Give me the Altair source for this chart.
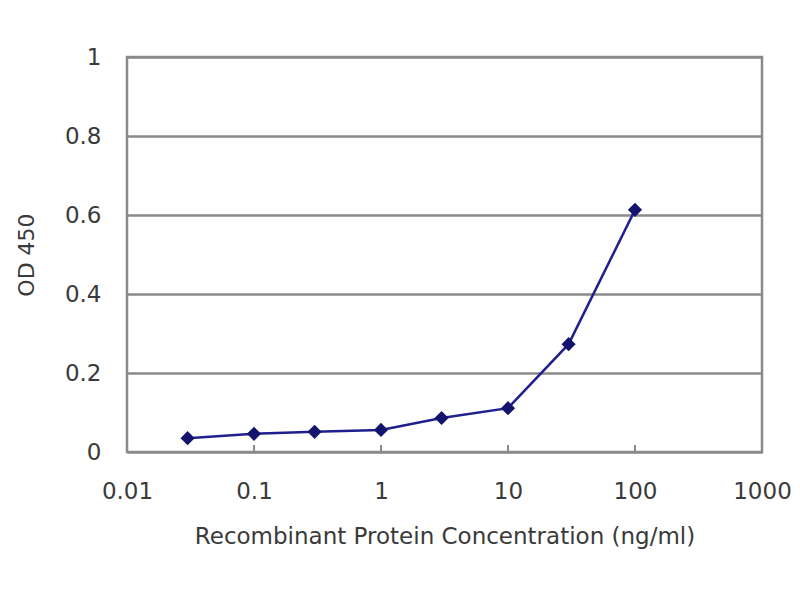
import altair as alt
import pandas as pd

conc = [0.03, 0.1, 0.3, 1, 3, 10, 30, 100]
od = [0.035, 0.046, 0.051, 0.056, 0.086, 0.111, 0.273, 0.613]
x_ticks = [0.01, 0.1, 1, 10, 100, 1000]
inner_ticks = [0.1, 1, 10, 100]

df = pd.DataFrame({"conc": conc, "od": od})
tdf = pd.DataFrame({"t": inner_ticks})

FONT = "DejaVu Sans"
GRAY = "#3a3a3a"

xscale = alt.Scale(type="log", domain=[0.01, 1000])
yscale = alt.Scale(domain=[0, 1])

xaxis = alt.Axis(values=x_ticks, format="~g", labelFont=FONT, labelFontSize=23,
                 labelColor=GRAY, titleFont=FONT, titleFontSize=23, titleColor=GRAY,
                 titleFontWeight="normal", ticks=False, domain=False, grid=False,
                 labelPadding=28, titlePadding=22, labelFlush=False)
yaxis = alt.Axis(values=[0, 0.2, 0.4, 0.6, 0.8, 1], format="~g", labelFont=FONT,
                 labelFontSize=23, labelColor=GRAY, titleFont=FONT, titleFontSize=22,
                 titleColor=GRAY, titleFontWeight="normal", ticks=False, domain=False,
                 grid=True, gridColor="#8a8a8a", gridWidth=2.5, labelPadding=26,
                 titlePadding=26)

line = alt.Chart(df).mark_line(color="#1f1f8f", strokeWidth=2.5).encode(
    x=alt.X("conc:Q", scale=xscale, axis=xaxis,
            title="Recombinant Protein Concentration (ng/ml)"),
    y=alt.Y("od:Q", scale=yscale, axis=yaxis, title="OD 450"),
)
pts = alt.Chart(df).mark_point(shape="diamond", filled=True, size=200,
                               color="#14146e", opacity=1).encode(
    x=alt.X("conc:Q", scale=xscale),
    y=alt.Y("od:Q", scale=yscale),
)
ticks = alt.Chart(tdf).mark_rule(color="#8a8a8a", strokeWidth=2).encode(
    x=alt.X("t:Q", scale=xscale),
    y=alt.value(395),
    y2=alt.value(388),
)

chart = alt.layer(ticks, line, pts).properties(
    width=635, height=395,
    autosize=alt.AutoSizeParams(type="none"),
    padding={"left": 119, "top": 49, "right": 30, "bottom": 120},
).configure(background="white").configure_view(stroke="#8a8a8a", strokeWidth=2.5)

chart.save("out.html", embed_options={"renderer": "svg", "actions": False})
